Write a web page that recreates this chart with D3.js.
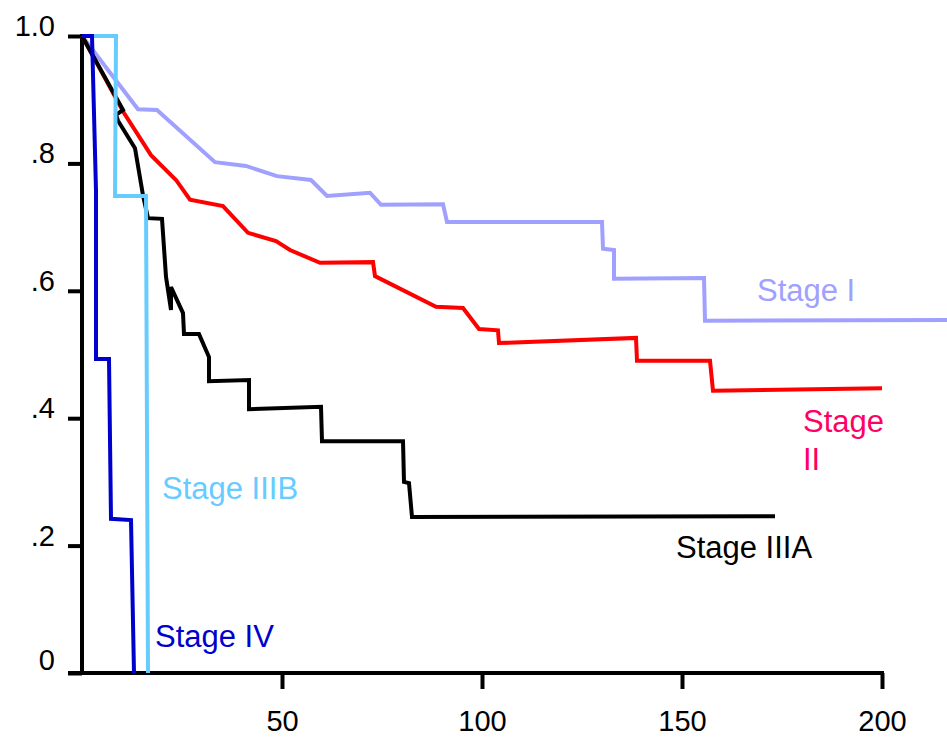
<!DOCTYPE html>
<html>
<head>
<meta charset="utf-8">
<script src="https://cdn.jsdelivr.net/npm/d3@7"></script>
<style>
  html, body { margin: 0; padding: 0; background: #fff; }
  svg { display: block; }
  text { font-family: "Liberation Sans", Arial, sans-serif; }
</style>
</head>
<body>
<svg id="chart" width="947" height="738"></svg>
<script>
// ---- Data (time in months, survival proportion) ----
const stageI = [
  [0, 1.0], [14, 0.885], [18.75, 0.884], [33.25, 0.802], [41, 0.796],
  [48.75, 0.780], [57.25, 0.774], [61.25, 0.749], [72, 0.754], [74.75, 0.735],
  [90.25, 0.736], [91.25, 0.708], [130, 0.708], [130.25, 0.666], [133, 0.664],
  [133, 0.619], [155.5, 0.620], [155.75, 0.553], [216.25, 0.554]
];
const stageII = [
  [0, 1.0], [10.5, 0.879], [17.25, 0.813], [23.5, 0.774], [27, 0.743],
  [35.25, 0.733], [41.5, 0.691], [48.5, 0.678], [52, 0.664], [59.5, 0.644],
  [72.75, 0.645], [73.25, 0.623], [88.5, 0.575], [95.25, 0.573], [99.25, 0.540],
  [104, 0.538], [104.25, 0.518], [138.5, 0.526], [138.75, 0.490], [157, 0.490],
  [157.75, 0.443], [200, 0.447]
];
const stageIIIA = [
  [0, 1.0], [10.25, 0.884], [8.5, 0.876], [9, 0.867], [13.25, 0.824],
  [15.25, 0.750], [16.5, 0.714], [20, 0.713], [21, 0.622], [22.25, 0.570],
  [22.25, 0.606], [25.25, 0.565], [25.5, 0.532], [29.25, 0.532], [31.75, 0.496],
  [31.75, 0.458], [41.75, 0.460], [41.75, 0.414], [59.75, 0.418], [60, 0.364],
  [80.25, 0.364], [80.5, 0.300], [81.75, 0.298], [82.5, 0.245], [173.25, 0.246]
];
const stageIIIB = [
  [0, 1.0], [8.5, 1.0], [8.25, 0.749], [16, 0.749], [16.5, 0]
];
const stageIV = [
  [0, 1.0], [2.5, 1.0], [3.5, 0.757], [3.5, 0.493], [6.75, 0.493],
  [7.25, 0.242], [12.25, 0.240], [13, 0]
];

const xTicks = [50, 100, 150, 200];
const xTickLabels = ["50", "100", "150", "200"];
const yTicks = [0, 0.2, 0.4, 0.6, 0.8, 1.0];
const yTickLabels = ["0", ".2", ".4", ".6", ".8", "1.0"];

const seriesNames = ["Stage I", "Stage II", "Stage IIIA", "Stage IIIB", "Stage IV"];

// ---- Layout ----
const svg = d3.select("#chart");
const x = d3.scaleLinear().domain([0, 200]).range([82, 882]);
const y = d3.scaleLinear().domain([0, 1]).range([673, 36]);

// ---- Axes ----
const yAxis = d3.axisLeft(y)
  .tickValues(yTicks)
  .tickSize(14)
  .tickPadding(13)
  .tickFormat((d, i) => yTickLabels[i]);
const gy = svg.append("g").attr("transform", `translate(${x(0)},0)`).call(yAxis);
gy.select(".domain").remove();
gy.append("line")
  .attr("x1", 0).attr("x2", 0)
  .attr("y1", y(1) - 2).attr("y2", y(0) + 2)
  .attr("stroke", "#000").attr("stroke-width", 4);
gy.selectAll(".tick line").attr("stroke", "#000").attr("stroke-width", 4).attr("x2", -14);
gy.selectAll(".tick text")
  .attr("font-size", 29)
  .attr("fill", "#000")
  .attr("dy", (d) => d === 0 ? "-0.12em" : "-0.02em")
  .attr("font-family", "'Liberation Sans', Arial, sans-serif");

const xAxis = d3.axisBottom(x)
  .tickValues(xTicks)
  .tickSize(16)
  .tickPadding(21)
  .tickFormat((d, i) => xTickLabels[i]);
const gx = svg.append("g").attr("transform", `translate(0,${y(0)})`).call(xAxis);
gx.select(".domain").remove();
gx.append("line")
  .attr("x1", x(0) - 14).attr("x2", x(200) + 2)
  .attr("y1", 0).attr("y2", 0)
  .attr("stroke", "#000").attr("stroke-width", 4);
gx.selectAll(".tick line").attr("stroke", "#000").attr("stroke-width", 4);
gx.selectAll(".tick text")
  .attr("font-size", 29)
  .attr("fill", "#000")
  .attr("font-family", "'Liberation Sans', Arial, sans-serif");

// ---- Curves ----
const line = d3.line().x(d => x(d[0])).y(d => y(d[1]));
const curves = [
  { data: stageI, color: "#a0a0ff" },
  { data: stageII, color: "#ff0000" },
  { data: stageIIIA, color: "#000000" },
  { data: stageIIIB, color: "#66ccff" },
  { data: stageIV, color: "#0000cc" }
];
svg.append("g").selectAll("path")
  .data(curves)
  .join("path")
  .attr("d", d => line(d.data))
  .attr("fill", "none")
  .attr("stroke", d => d.color)
  .attr("stroke-width", 4)
  .attr("stroke-linejoin", "miter")
  .attr("stroke-miterlimit", 3);

// ---- Labels ----
const labels = [
  { lines: [seriesNames[0]], x: 757, y: 301, color: "#a0a0ff" },
  { lines: ["Stage", "II"], x: 803, y: 432, color: "#ff0066" },
  { lines: [seriesNames[2]], x: 676, y: 558, color: "#000000" },
  { lines: [seriesNames[3]], x: 162, y: 499, color: "#66ccff" },
  { lines: [seriesNames[4]], x: 155, y: 647, color: "#0000cc" }
];
const lg = svg.append("g");
labels.forEach(l => {
  const t = lg.append("text")
    .attr("x", l.x).attr("y", l.y)
    .attr("fill", l.color)
    .attr("font-size", 31);
  l.lines.forEach((s, i) => {
    t.append("tspan").attr("x", l.x).attr("dy", i === 0 ? 0 : 38).text(s);
  });
});
</script>
</body>
</html>
